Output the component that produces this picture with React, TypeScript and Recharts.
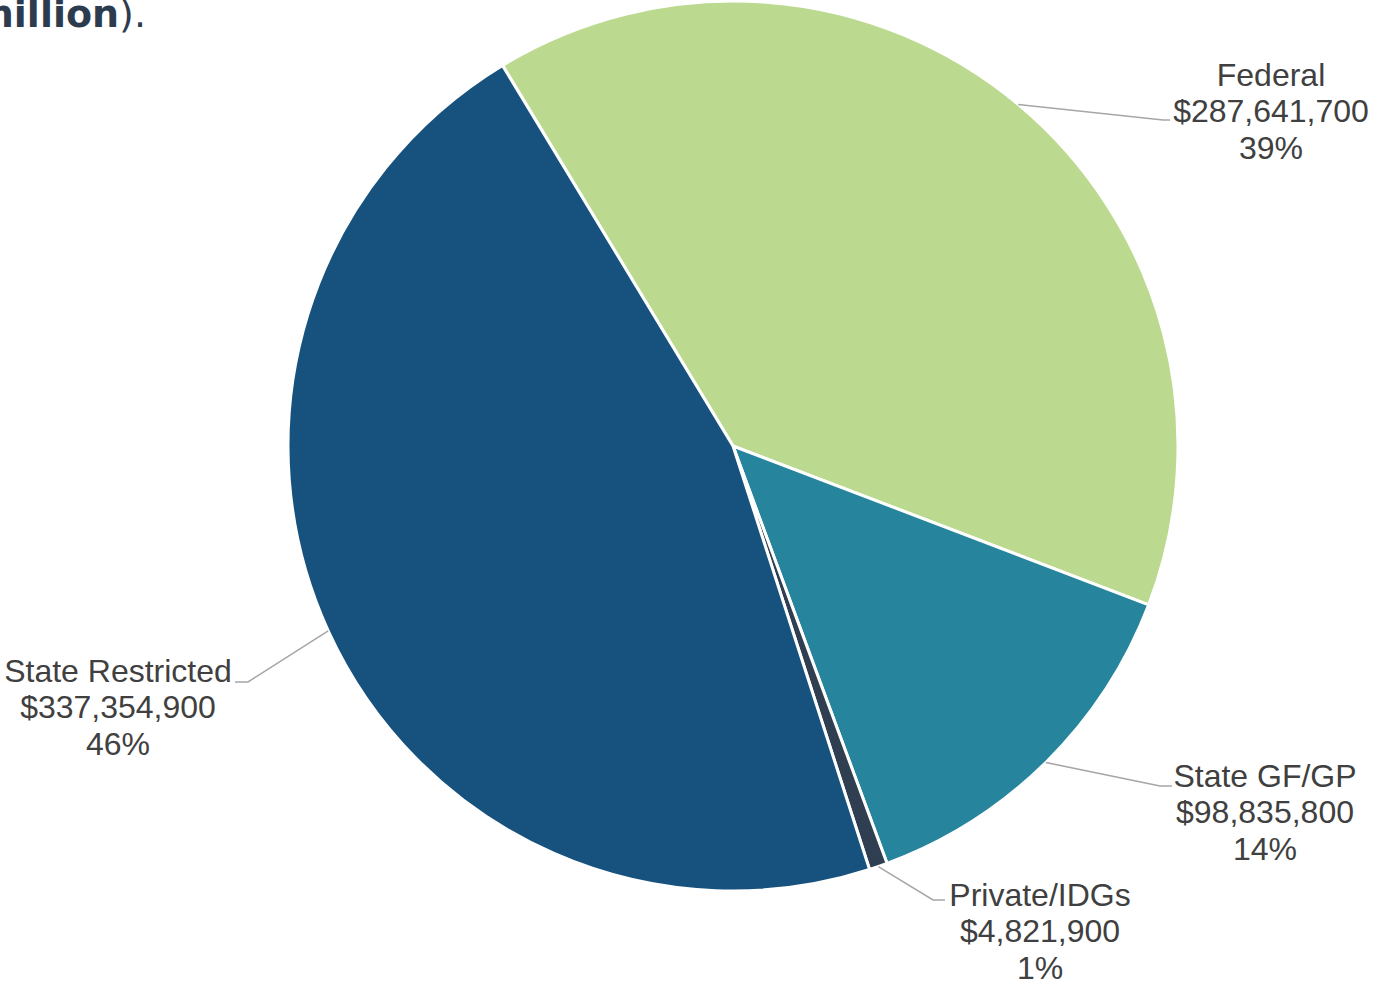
import { PieChart, Pie, Cell } from "recharts"

const categories = ["Federal", "State GF/GP", "Private/IDGs", "State Restricted"]
const amounts = [287641700, 98835800, 4821900, 337354900]
const colors = ["#bbda8f", "#26849c", "#2f3e50", "#16527d"]

// manual label placement (relative to pie centre), like the hand-dragged labels in the original
const labelLayout = [
  { tx: 538, ty: -335, bx: 430, ex: 437, ey: -326 },
  { tx: 532, ty: 366, bx: 427, ex: 439, ey: 340 },
  { tx: 307, ty: 485, bx: 200, ex: 212, ey: 454 },
  { tx: -615, ty: 261, bx: -485, ex: -498, ey: 236 },
]

const data = categories.map((name, i) => ({ name, value: amounts[i] }))

const RAD = Math.PI / 180
const FONT = 32
const LINE = 36.5

function renderLabel(props: any) {
  const { cx, cy, midAngle, outerRadius, percent, index, name, value } = props
  const l = labelLayout[index]
  const sx = cx + outerRadius * Math.cos(-midAngle * RAD)
  const sy = cy + outerRadius * Math.sin(-midAngle * RAD)
  const tx = cx + l.tx
  const base = cy + l.ty + FONT * 0.358
  return (
    <g key={`lbl-${index}`}>
      <polyline
        points={`${sx},${sy} ${cx + l.bx},${cy + l.ey} ${cx + l.ex},${cy + l.ey}`}
        fill="none"
        stroke="#a6a6a6"
        strokeWidth={1.5}
      />
      <text
        x={tx}
        y={base - LINE}
        textAnchor="middle"
        fill="#404040"
        fontSize={FONT}
        fontFamily="'Liberation Sans', Arial, sans-serif"
      >
        <tspan x={tx} y={base - LINE}>{name}</tspan>
        <tspan x={tx} y={base}>${value.toLocaleString("en-US")}</tspan>
        <tspan x={tx} y={base + LINE}>{Math.round(percent * 100)}%</tspan>
      </text>
    </g>
  )
}

export default function App() {
  return (
    <div style={{ position: "absolute", left: 0, top: 0, width: 1374, height: 985, background: "#fff" }}>
      <PieChart width={1374} height={985} margin={{ top: 0, right: 0, bottom: 0, left: 0 }}>
        <Pie
          data={data}
          dataKey="value"
          nameKey="name"
          cx={733}
          cy={446}
          outerRadius={445}
          startAngle={121.2}
          endAngle={-238.8}
          stroke="#ffffff"
          strokeWidth={3}
          label={renderLabel}
          labelLine={false}
          isAnimationActive={false}
        >
          {data.map((d, i) => (
            <Cell key={d.name} fill={colors[i]} />
          ))}
        </Pie>
      </PieChart>
      <svg width={400} height={60} style={{ position: "absolute", left: 0, top: 0 }}>
        <text
          x={146}
          y={27}
          textAnchor="end"
          fill="#2d3b4f"
          fontSize={38}
          fontFamily="'DejaVu Sans', sans-serif"
        >
          <tspan fontWeight={700}>million</tspan>
          <tspan>).</tspan>
        </text>
      </svg>
    </div>
  )
}
